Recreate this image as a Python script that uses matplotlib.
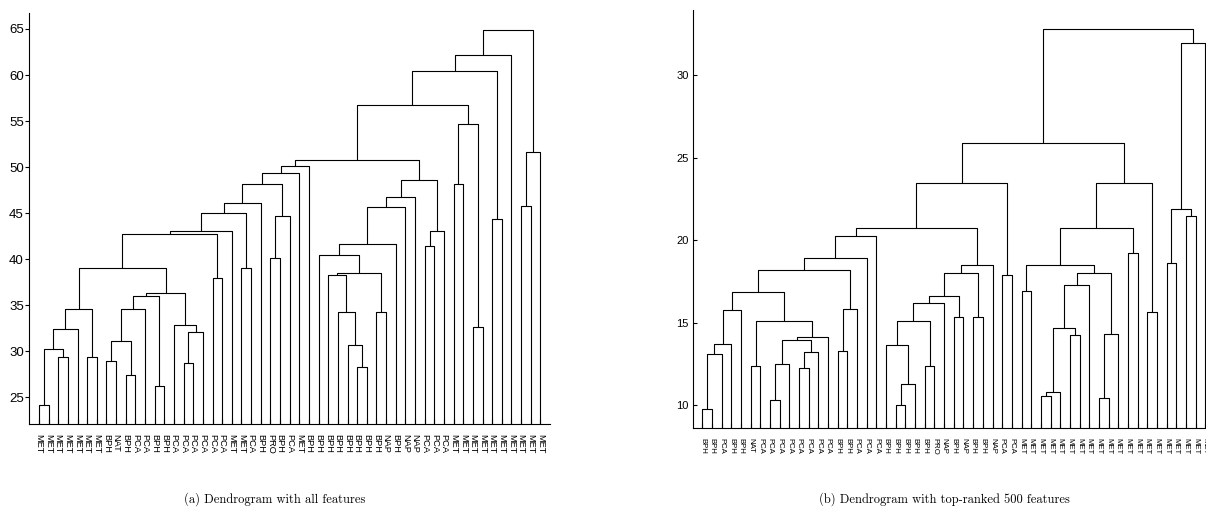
import matplotlib
matplotlib.use("Agg")
import matplotlib.pyplot as plt

plt.rcParams['font.family'] = ['Liberation Sans', 'DejaVu Sans']

# Leaf labels in dendrogram order
labels_all = (['MET'] * 7
              + ['BPH', 'NAT', 'BPH', 'PCA', 'PCA', 'BPH', 'BPH']
              + ['PCA'] * 6
              + ['MET', 'MET', 'PCA', 'BPH', 'PRO', 'BPH', 'PCA', 'MET']
              + ['BPH'] * 8
              + ['NAP', 'BPH', 'NAP', 'NAP']
              + ['PCA'] * 3
              + ['MET'] * 10)

labels_top = (['BPH', 'BPH', 'PCA', 'BPH', 'BPH', 'NAT']
              + ['PCA'] * 8
              + ['BPH', 'BPH', 'PCA', 'PCA', 'PCA']
              + ['BPH'] * 5
              + ['PRO', 'NAP', 'BPH', 'NAP', 'BPH', 'BPH', 'NAP', 'PCA', 'PCA']
              + ['MET'] * 20)

# Merges (left, right, height); ids >= n refer to earlier merges
links_all = [
    (0, 1, 24.1), (2, 3, 29.3), (53, 54, 30.2), (55, 4, 32.4),
    (5, 6, 29.4), (56, 57, 34.6), (7, 8, 28.9), (9, 10, 27.4),
    (59, 60, 31.1), (61, 11, 34.6), (12, 13, 26.2), (62, 63, 36.0),
    (15, 16, 28.7), (65, 17, 32.1), (14, 66, 32.8), (64, 67, 36.3),
    (58, 68, 39.0), (18, 19, 37.9), (69, 70, 42.7), (71, 20, 43.0),
    (21, 22, 39.0), (72, 73, 45.0), (74, 23, 46.1), (24, 25, 40.1),
    (76, 26, 44.7), (75, 77, 48.1), (78, 27, 49.4), (79, 28, 50.1),
    (33, 34, 28.3), (32, 81, 30.65), (31, 82, 34.2), (30, 83, 38.3),
    (35, 36, 34.2), (84, 85, 38.5), (29, 86, 40.4), (87, 37, 41.6),
    (88, 38, 45.6), (89, 39, 46.7), (40, 41, 41.4), (91, 42, 43.0),
    (90, 92, 48.55), (80, 93, 50.8), (43, 44, 48.2), (45, 46, 32.6),
    (95, 96, 54.7), (94, 97, 56.7), (47, 48, 44.3), (98, 99, 60.4),
    (100, 49, 62.2), (50, 51, 45.8), (102, 52, 51.6), (101, 103, 64.9),
]

links_top = [
    (0, 1, 9.74), (53, 2, 13.07), (54, 3, 13.72), (55, 4, 15.78),
    (5, 6, 12.38), (7, 8, 10.32), (58, 9, 12.47), (10, 11, 12.26),
    (60, 12, 13.19), (59, 61, 13.92), (62, 13, 14.14), (57, 63, 15.07),
    (56, 64, 16.87), (14, 15, 13.29), (66, 16, 15.84), (65, 67, 18.16),
    (68, 17, 18.91), (69, 18, 20.22), (20, 21, 10.0), (71, 22, 11.29),
    (19, 72, 13.65), (23, 24, 12.36), (73, 74, 15.07), (75, 25, 16.2),
    (26, 27, 15.33), (76, 77, 16.63), (28, 29, 15.31), (78, 79, 18.02),
    (80, 30, 18.5), (70, 81, 20.71), (31, 32, 17.9), (82, 83, 23.47),
    (33, 34, 16.93), (35, 36, 10.53), (86, 37, 10.81), (38, 39, 14.22),
    (87, 88, 14.69), (89, 40, 17.25), (41, 42, 10.42), (91, 43, 14.28),
    (90, 92, 18.02), (85, 93, 18.5), (44, 45, 19.19), (94, 95, 20.75),
    (46, 47, 15.66), (96, 97, 23.43), (84, 98, 25.86), (48, 49, 18.59),
    (50, 51, 21.47), (100, 101, 21.88), (102, 52, 31.96), (99, 103, 32.79),
]

yticks_all = [25, 30, 35, 40, 45, 50, 55, 60, 65]
yticks_top = [10, 15, 20, 25, 30]


def draw_dendrogram(ax, links, labels):
    """Draw U-shaped links; leaves sit at x = 1..n."""
    n = len(labels)
    xpos = {i: i + 1 for i in range(n)}
    ypos = {i: 0.0 for i in range(n)}
    for k, (a, b, h) in enumerate(links):
        xa, xb = xpos[a], xpos[b]
        ax.plot([xa, xa, xb, xb], [ypos[a], h, h, ypos[b]],
                color='black', lw=0.8, solid_capstyle='butt')
        xpos[n + k] = (xa + xb) / 2
        ypos[n + k] = h
    ax.set_xlim(0, n + 1)
    ax.set_xticks(range(1, n + 1))
    for side in ('top', 'right'):
        ax.spines[side].set_visible(False)
    for side in ('left', 'bottom'):
        ax.spines[side].set_linewidth(0.8)


fig = plt.figure(figsize=(12.06, 5.23), dpi=100)

ax1 = fig.add_axes([0.0243, 0.1893, 0.4318, 0.7864])
draw_dendrogram(ax1, links_all, labels_all)
ax1.set_ylim(22.07, 66.77)
ax1.set_yticks(yticks_all)
ax1.set_xticklabels(labels_all, rotation=270, fontsize=6.7)
ax1.tick_params(axis='x', direction='in', length=3.5, width=0.8, pad=7)
ax1.tick_params(axis='y', direction='out', length=3, width=0.8, pad=1,
                labelsize=9.5)

ax2 = fig.add_axes([0.5744, 0.1811, 0.4330, 0.7998])
draw_dendrogram(ax2, links_top, labels_top)
ax2.set_ylim(8.59, 33.94)
ax2.set_yticks(yticks_top)
ax2.set_xticklabels(labels_top, rotation=270, fontsize=5.6)
ax2.tick_params(axis='x', direction='in', length=3.5, width=0.8, pad=7)
ax2.tick_params(axis='y', direction='in', length=3, width=0.8, pad=3,
                labelsize=8)

fig.text(0.228, 0.046, '(a) Dendrogram with all features',
         family='cmr10', fontsize=9, ha='center', va='center')
fig.text(0.783, 0.046, '(b) Dendrogram with top-ranked 500 features',
         family='cmr10', fontsize=9, ha='center', va='center')

fig.savefig('out.png', dpi=100)
